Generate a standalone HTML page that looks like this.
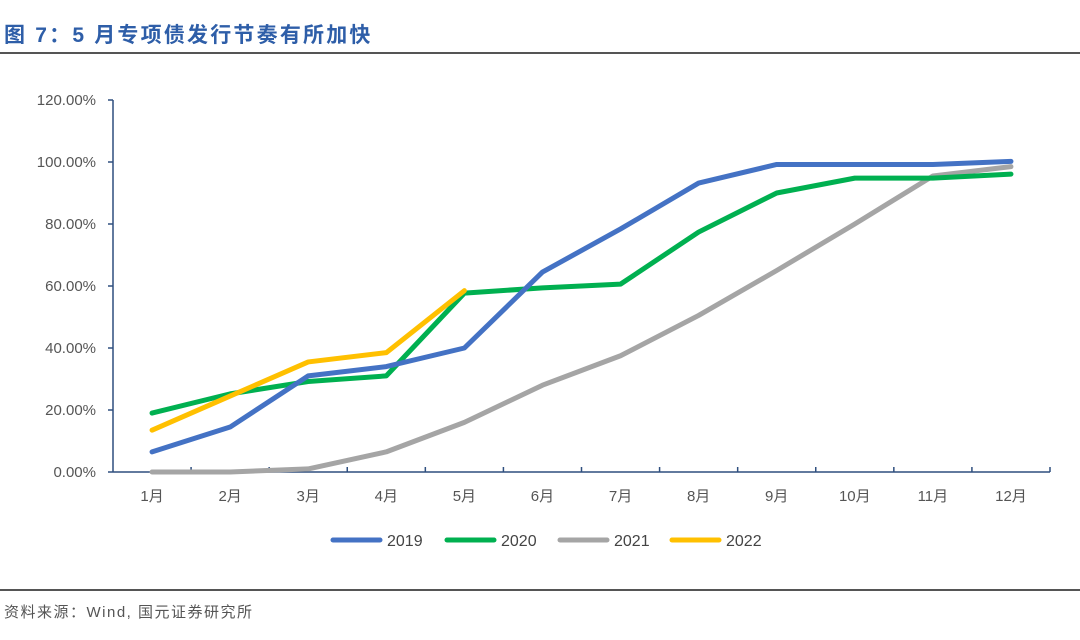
<!DOCTYPE html>
<html><head><meta charset="utf-8"><style>
body{margin:0;width:1080px;height:635px;background:#fff;overflow:hidden;font-family:"Liberation Sans","Noto Sans CJK SC",sans-serif;}
</style></head><body>
<svg width="1080" height="635" xmlns="http://www.w3.org/2000/svg">
<text x="4" y="42" font-size="21" font-weight="bold" fill="#2e5ea8" font-family="'Liberation Sans','Noto Sans CJK SC',sans-serif" letter-spacing="2.2">图 7：5 月专项债发行节奏有所加快</text>
<line x1="0" y1="53" x2="1080" y2="53" stroke="#555" stroke-width="2"/>
<line x1="0" y1="590" x2="1080" y2="590" stroke="#555" stroke-width="2"/>
<text x="4" y="617" font-size="15" fill="#555" letter-spacing="1.5">资料来源：Wind, 国元证券研究所</text>
<g id="axes"></g><g id="series"></g><g id="legend"></g>
</svg>
<script>
const categories=["1月","2月","3月","4月","5月","6月","7月","8月","9月","10月","11月","12月"];
const yTicks=[0,20,40,60,80,100,120];
const years=["2019","2020","2021","2022"];
const colors=["#4472c4","#00b050","#a5a5a5","#ffc000"];
const s2019=[6.5,14.5,31,34,40,64.5,78.4,93.2,99.2,99.2,99.2,100.2];
const s2020=[19,25.2,29.2,31,57.7,59.4,60.6,77.4,90,94.8,94.8,96.1];
const s2021=[0,0,1,6.5,16,28,37.5,50.5,65,80,95.5,98.5];
const s2022=[13.5,24.5,35.5,38.5,58.5];
const seriesData=[s2019,s2020,s2021,s2022];
const NS="http://www.w3.org/2000/svg";
const x0=113,x1=1050,yb=472,yt=100;
const bw=(x1-x0)/categories.length;
const X=i=>x0+bw*(i+0.5);
const Y=v=>yb-(v/120)*(yb-yt);
function mk(t,a,p){const e=document.createElementNS(NS,t);for(const k in a)e.setAttribute(k,a[k]);p.appendChild(e);return e;}
const ax=document.getElementById('axes');
let l=mk('line',{x1:x0,y1:yt,x2:x0,y2:yb,stroke:'#2f4f7f','stroke-width':1.5},ax);


l=mk('line',{x1:x0,y1:yb,x2:x1,y2:yb,stroke:'#2f4f7f','stroke-width':1.5},ax);


yTicks.forEach(v=>{
  const tk=mk('line',{x1:x0-5,y1:Y(v),x2:x0,y2:Y(v),stroke:'#2f4f7f','stroke-width':1.5},ax);
  
  
  const t=mk('text',{x:x0-17,y:Y(v)+5,'text-anchor':'end','font-size':15,fill:'#555'},ax);
  t.textContent=v.toFixed(2)+'%';
  
  
});
for(let i=1;i<=categories.length;i++){
  const tk=mk('line',{x1:x0+bw*i,y1:yb-5,x2:x0+bw*i,y2:yb,stroke:'#2f4f7f','stroke-width':1.5},ax);
  
  
}
categories.forEach((c,i)=>{
  const t=mk('text',{x:X(i),y:501,'text-anchor':'middle','font-size':15,fill:'#555'},ax);
  t.textContent=c;
  
  
});
const sg=document.getElementById('series');
[2,1,0,3].forEach(k=>{
  const d=seriesData[k].map((v,i)=>(i?'L':'M')+X(i)+' '+Y(v)).join(' ');
  const p=mk('path',{d:d,fill:'none',stroke:colors[k],'stroke-width':5,'stroke-linecap':'round','stroke-linejoin':'round'},sg);
  
  
});
const lg=document.getElementById('legend');
const lx=[333,447,560,672];
years.forEach((y,k)=>{
  const g=mk('g',{},lg);
  
  
  mk('line',{x1:lx[k],y1:540,x2:lx[k]+47,y2:540,stroke:colors[k],'stroke-width':5,'stroke-linecap':'round'},g);
  const t=mk('text',{x:lx[k]+54,y:546,'font-size':16,fill:'#444'},g);
  t.textContent=y;
});
</script>
</body></html>
